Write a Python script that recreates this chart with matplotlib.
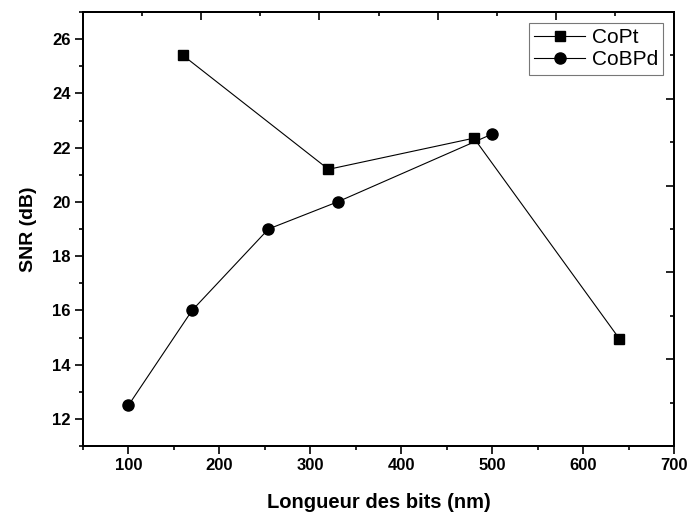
import matplotlib
matplotlib.use("Agg")
import matplotlib.pyplot as plt
from matplotlib.ticker import MultipleLocator

plt.rcParams['font.family'] = ['Liberation Sans', 'DejaVu Sans']

copt_x = [160, 320, 480, 640]
copt_y = [25.4, 21.2, 22.35, 14.95]
cobpd_x = [100, 170, 254, 330, 500]
cobpd_y = [12.5, 16.0, 19.0, 20.0, 22.5]

x_ticks = [100, 200, 300, 400, 500, 600, 700]
y_ticks = [12, 14, 16, 18, 20, 22, 24, 26]

fig = plt.figure(figsize=(6.89, 5.15), dpi=100)
ax = fig.add_axes([83/689, 1-446/515, (674-83)/689, (446-12)/515])

ax.plot(copt_x, copt_y, color='black', lw=0.8, marker='s', ms=7, label='CoPt')
ax.plot(cobpd_x, cobpd_y, color='black', lw=0.8, marker='o', ms=8, label='CoBPd')

ax.set_xlim(50, 700)
ax.set_ylim(11, 27)
ax.set_xticks(x_ticks)
ax.set_yticks(y_ticks)
ax.xaxis.set_minor_locator(MultipleLocator(50))
ax.yaxis.set_minor_locator(MultipleLocator(1))
ax.tick_params(which='major', direction='out', length=5.5, width=1.2, labelsize=12,
               top=False, right=False)
ax.tick_params(which='minor', direction='out', length=3, width=1.2, top=False, right=False)
for lab in ax.get_xticklabels() + ax.get_yticklabels():
    lab.set_fontweight('bold')
for s in ax.spines.values():
    s.set_linewidth(1.4)

ax.set_xlabel('Longueur des bits (nm)', fontsize=14.5, fontweight='bold', labelpad=14)
ax.set_ylabel('SNR (dB)', fontsize=14, fontweight='bold', labelpad=11)

# Top and right inward ticks (independent divisions, as in the reference)
axt = ax.twiny()
axt.set_xlim(0, 5)
axt.set_xticks(range(6))
axt.xaxis.set_minor_locator(MultipleLocator(0.5))
axt.tick_params(axis='x', which='major', direction='in', length=6, width=1.2, labeltop=False)
axt.tick_params(axis='x', which='minor', direction='in', length=3, width=1.2)
axr = ax.twinx()
axr.set_ylim(0, 5)
axr.set_yticks(range(6))
axr.yaxis.set_minor_locator(MultipleLocator(0.5))
axr.tick_params(axis='y', which='major', direction='in', length=6, width=1.2, labelright=False)
axr.tick_params(axis='y', which='minor', direction='in', length=3, width=1.2)
for a in (axt, axr):
    for s in a.spines.values():
        s.set_linewidth(1.4)

leg = ax.legend(loc='upper right', bbox_to_anchor=((663 - 83)/591, 1 - 11/434),
                fontsize=15, frameon=True, fancybox=False, handlelength=2.45,
                borderpad=0.25, labelspacing=0.15, handletextpad=0.3, borderaxespad=0)
leg.get_frame().set_edgecolor('#555555')
leg.get_frame().set_linewidth(0.8)

fig.savefig('out.png', dpi=100)
